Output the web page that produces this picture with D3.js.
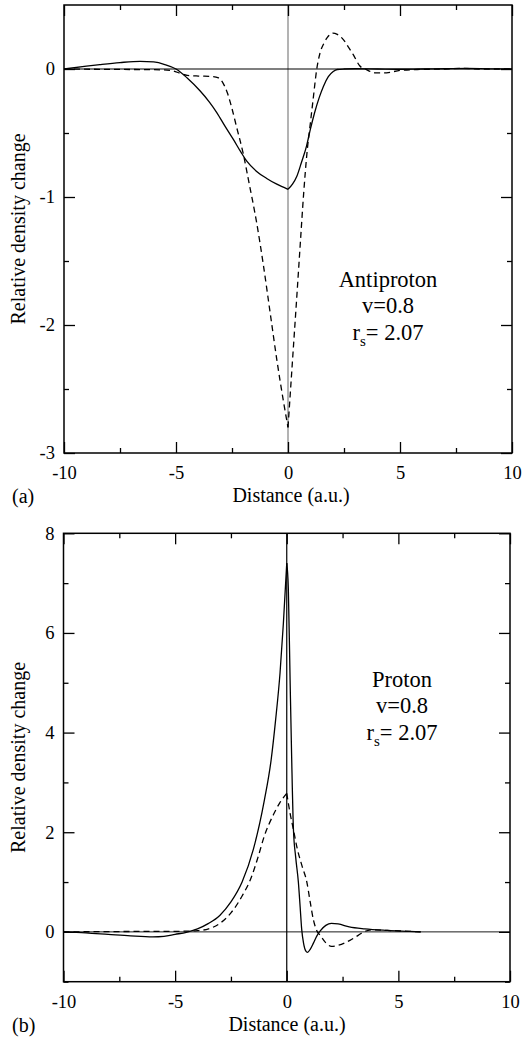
<!DOCTYPE html>
<html>
<head>
<meta charset="utf-8">
<script src="https://cdn.jsdelivr.net/npm/d3@7"></script>
<style>
  html, body { margin: 0; padding: 0; background: #fff; }
  svg { display: block; }
  text { font-family: "Liberation Serif", "Times New Roman", serif; fill: #000; }
</style>
</head>
<body>
<svg id="chart" width="522" height="1038"></svg>
<script>
// ---- data: induced density change along the projectile path ----
const xMajor = [-10, -5, 0, 5, 10];
const xMinor = [-7.5, -2.5, 2.5, 7.5];

// (a) antiproton
const antiYMajor = [0, -1, -2, -3];
const antiYMinor = [-0.5, -1.5, -2.5];
const antiSolidX = [-10, -9, -8.4, -7.5, -6.6, -6, -5.5, -5, -4.5, -3.93, -3.5, -3.18, -2.8, -2.44, -2.1, -1.84, -1.4, -0.95, -0.5, 0,
                    0.2, 0.39, 0.6, 0.83, 1.0, 1.19, 1.4, 1.58, 1.8, 2.02, 2.2, 2.5, 3, 4, 5, 6, 7, 8, 9, 10];
const antiSolidY = [0, 0.022, 0.034, 0.05, 0.06, 0.055, 0.035, 0.0, -0.07, -0.17, -0.26, -0.34, -0.45, -0.55, -0.65, -0.72, -0.8, -0.855, -0.9, -0.94,
                    -0.9, -0.84, -0.73, -0.6, -0.47, -0.34, -0.22, -0.136, -0.06, -0.02, -0.004, 0.0, 0.002, 0.0, -0.002, 0.0, 0.002, 0.004, 0.001, 0];
const antiDashX = [-10, -8, -6, -5.2, -4.8, -4.5, -4, -3.4, -3.1, -2.9, -2.7, -2.5, -2.3, -2.0, -1.75, -1.4, -1.1, -0.8, -0.5, -0.2, 0,
                   0.1, 0.25, 0.4, 0.55, 0.7, 0.85, 1.0, 1.12, 1.28, 1.43, 1.6, 1.75, 2.0, 2.2, 2.47, 2.7, 2.92, 3.2, 3.5, 3.9, 4.4, 5, 6, 7, 7.8, 8.5, 10];
const antiDashY = [0, -0.003, -0.005, -0.012, -0.035, -0.05, -0.055, -0.058, -0.07, -0.11, -0.19, -0.31, -0.45, -0.66, -0.88, -1.2, -1.53, -1.9, -2.27, -2.6, -2.8,
                   -2.54, -2.15, -1.76, -1.36, -0.97, -0.65, -0.42, -0.24, -0.005, 0.125, 0.2, 0.245, 0.28, 0.27, 0.23, 0.17, 0.11, 0.025, -0.005, -0.03, -0.03, -0.01, -0.003, 0, 0.005, 0, 0];

// (b) proton
const protYMajor = [0, 2, 4, 6, 8];
const protYMinor = [-1, 1, 3, 5, 7];
const protSolidX = [-10, -9, -8, -7, -6, -5.5, -5, -4.5, -4, -3.5, -3, -2.5, -2, -1.5, -1.0, -0.7, -0.5, -0.3, -0.15, 0,
                    0.07, 0.15, 0.22, 0.3, 0.4, 0.52, 0.6, 0.67, 0.75, 0.85, 0.93, 1.05, 1.2, 1.35, 1.5, 1.75, 2.0, 2.3, 2.8, 3.5, 4.5, 5.5, 6];
const protSolidY = [0, -0.02, -0.05, -0.08, -0.1, -0.09, -0.05, -0.01, 0.06, 0.17, 0.33, 0.6, 1.0, 1.65, 2.65, 3.45, 4.25, 5.2, 6.2, 7.4,
                    6.9, 5.05, 3.5, 2.05, 1.5, 1.0, 0.5, 0.05, -0.22, -0.38, -0.41, -0.35, -0.22, -0.08, 0.02, 0.13, 0.17, 0.16, 0.1, 0.06, 0.03, 0.01, 0];
const protDashX = [-10, -8, -6, -5, -4.5, -4, -3.5, -3, -2.5, -2, -1.6, -1.3, -1.0, -0.6, -0.3, 0,
                   0.15, 0.3, 0.45, 0.7, 0.9, 1.05, 1.2, 1.35, 1.5, 1.75, 2.0, 2.3, 2.83, 3.2, 3.45, 3.8, 4.5, 5.5, 6];
const protDashY = [0, 0.005, 0.01, 0.01, 0.015, 0.025, 0.06, 0.17, 0.38, 0.72, 1.08, 1.48, 1.93, 2.35, 2.6, 2.78,
                   2.38, 2.05, 1.71, 1.3, 1.0, 0.6, 0.23, 0.02, -0.07, -0.22, -0.29, -0.27, -0.17, -0.07, 0.0, 0.04, 0.03, 0.01, 0];

// ---- drawing ----
const svg = d3.select("#chart");

function zip(xs, ys) { return xs.map((x, i) => ({x, y: ys[i]})); }

function drawPanel(cfg) {
  const x = d3.scaleLinear().domain([-10, 10]).range([cfg.left, cfg.right]);
  const y = d3.scaleLinear().domain(cfg.yDomain).range([cfg.bottom, cfg.top]);
  const g = svg.append("g");

  const clipId = "clip-" + cfg.id;
  svg.append("clipPath").attr("id", clipId)
    .append("rect")
    .attr("x", cfg.left).attr("y", cfg.top)
    .attr("width", cfg.right - cfg.left).attr("height", cfg.bottom - cfg.top);

  // reference lines at x = 0 and y = 0
  g.append("line")
    .attr("x1", x(0)).attr("x2", x(0)).attr("y1", cfg.top).attr("y2", cfg.bottom)
    .attr("stroke", cfg.vColor).attr("stroke-width", cfg.vWidth);
  g.append("line")
    .attr("x1", cfg.left).attr("x2", cfg.right).attr("y1", y(0)).attr("y2", y(0))
    .attr("stroke", "#000").attr("stroke-width", cfg.hWidth);

  // curves, split at the cusp at x = 0
  const line = d3.line().x(d => x(d.x)).y(d => y(d.y)).curve(d3.curveMonotoneX);
  const curves = g.append("g").attr("clip-path", `url(#${clipId})`);
  cfg.series.forEach(s => {
    const pts = zip(s.xs, s.ys);
    [pts.filter(p => p.x <= 0), pts.filter(p => p.x >= 0)].forEach(seg => {
      curves.append("path")
        .attr("d", line(seg))
        .attr("fill", "none")
        .attr("stroke", "#000")
        .attr("stroke-width", 1.3)
        .attr("stroke-dasharray", s.dash || null);
    });
  });

  // axes: ticks point inward on all four sides
  const fontSize = 18.5;
  function styleAxis(sel) {
    sel.select(".domain").remove();
    sel.selectAll("line").attr("stroke", "#000").attr("stroke-width", 1.3);
    sel.selectAll("text").attr("font-size", fontSize)
      .attr("font-family", '"Liberation Serif", serif').attr("fill", "#000");
  }
  const majorLen = 11, minorLen = 5;

  g.append("g").attr("transform", `translate(0,${cfg.bottom})`)
    .call(d3.axisBottom(x).tickValues(xMajor).tickSizeInner(-majorLen).tickSizeOuter(0)
      .tickPadding(13).tickFormat(d3.format("d")))
    .call(styleAxis);
  g.append("g").attr("transform", `translate(0,${cfg.bottom})`)
    .call(d3.axisBottom(x).tickValues(xMinor).tickSizeInner(-minorLen).tickSizeOuter(0).tickFormat(""))
    .call(styleAxis);
  g.append("g").attr("transform", `translate(0,${cfg.top})`)
    .call(d3.axisTop(x).tickValues(xMajor).tickSizeInner(-majorLen).tickSizeOuter(0).tickFormat(""))
    .call(styleAxis);
  g.append("g").attr("transform", `translate(0,${cfg.top})`)
    .call(d3.axisTop(x).tickValues(xMinor).tickSizeInner(-minorLen).tickSizeOuter(0).tickFormat(""))
    .call(styleAxis);

  g.append("g").attr("transform", `translate(${cfg.left},0)`)
    .call(d3.axisLeft(y).tickValues(cfg.yMajor).tickSizeInner(-majorLen).tickSizeOuter(0)
      .tickPadding(9).tickFormat(d3.format("d")))
    .call(styleAxis);
  g.append("g").attr("transform", `translate(${cfg.left},0)`)
    .call(d3.axisLeft(y).tickValues(cfg.yMinor).tickSizeInner(-minorLen).tickSizeOuter(0).tickFormat(""))
    .call(styleAxis);
  g.append("g").attr("transform", `translate(${cfg.right},0)`)
    .call(d3.axisRight(y).tickValues(cfg.yMajor).tickSizeInner(-majorLen).tickSizeOuter(0).tickFormat(""))
    .call(styleAxis);
  g.append("g").attr("transform", `translate(${cfg.right},0)`)
    .call(d3.axisRight(y).tickValues(cfg.yMinor).tickSizeInner(-minorLen).tickSizeOuter(0).tickFormat(""))
    .call(styleAxis);

  // minus signs drawn as plain hyphens
  g.selectAll(".tick text").text(function () { return this.textContent.replace("\u2212", "-"); });

  // frame
  g.append("rect")
    .attr("x", cfg.left).attr("y", cfg.top)
    .attr("width", cfg.right - cfg.left).attr("height", cfg.bottom - cfg.top)
    .attr("fill", "none").attr("stroke", "#000").attr("stroke-width", 1.5);

  // axis titles
  g.append("text")
    .attr("x", cfg.xTitleX).attr("y", cfg.bottom + 49)
    .attr("text-anchor", "middle").attr("font-size", 20)
    .text("Distance (a.u.)");
  g.append("text")
    .attr("transform", `translate(25,${(cfg.top + cfg.bottom) / 2}) rotate(-90)`)
    .attr("text-anchor", "middle").attr("font-size", 20)
    .text("Relative density change");

  // panel letter
  g.append("text")
    .attr("x", 12).attr("y", cfg.bottom + 50)
    .attr("font-family", '"Liberation Sans", Arial, sans-serif')
    .attr("font-size", 20)
    .text(cfg.letter);

  // annotation
  const ann = g.append("text").attr("text-anchor", "middle").attr("font-size", 22.5);
  ann.append("tspan").attr("x", cfg.annX).attr("y", cfg.annY).text(cfg.name);
  ann.append("tspan").attr("x", cfg.annX).attr("y", cfg.annY + 26.7).text("v=0.8");
  const rs = ann.append("tspan").attr("x", cfg.annX).attr("y", cfg.annY + 53.4);
  rs.append("tspan").text("r");
  rs.append("tspan").attr("font-size", 15).attr("dy", 6).text("s");
  rs.append("tspan").attr("dy", -6).text("= 2.07");
}

drawPanel({
  id: "a", letter: "(a)", name: "Antiproton",
  left: 64, right: 512, top: 5, bottom: 453,
  yDomain: [-3, 0.5], yMajor: antiYMajor, yMinor: antiYMinor,
  vColor: "#9a9a9a", vWidth: 1.5, hWidth: 1.2,
  xTitleX: 291, annX: 388, annY: 286.7,
  series: [
    {xs: antiSolidX, ys: antiSolidY},
    {xs: antiDashX, ys: antiDashY, dash: "6,4"}
  ]
});

drawPanel({
  id: "b", letter: "(b)", name: "Proton",
  left: 63.5, right: 510, top: 533.3, bottom: 981.7,
  yDomain: [-1, 8], yMajor: protYMajor, yMinor: protYMinor,
  vColor: "#000", vWidth: 1.2, hWidth: 0.9,
  xTitleX: 287, annX: 402, annY: 686.7,
  series: [
    {xs: protSolidX, ys: protSolidY},
    {xs: protDashX, ys: protDashY, dash: "6,4"}
  ]
});
</script>
</body>
</html>
